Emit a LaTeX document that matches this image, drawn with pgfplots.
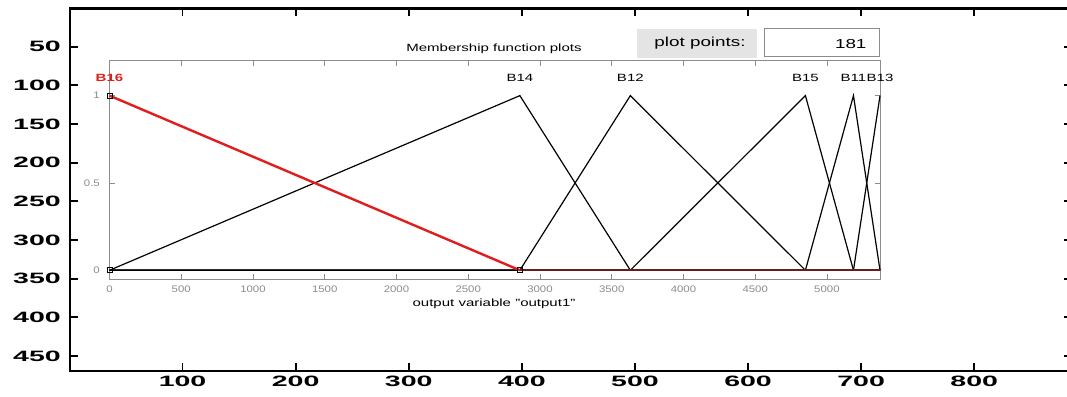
\documentclass[border=0pt]{standalone}
\usepackage{fontspec}
\setmainfont{Liberation Sans}
\usepackage{graphicx}
\usepackage{pgfplots}
\pgfplotsset{compat=1.18}
\definecolor{mfred}{RGB}{225,30,30}
\definecolor{mfdark}{RGB}{100,30,30}
\definecolor{tickgray}{RGB}{140,140,140}
\definecolor{boxgray}{RGB}{228,228,228}
\newcommand{\gui}[1]{\scalebox{1.43}[1]{\fontsize{10.5}{12}\selectfont #1}}
\begin{document}
\begin{tikzpicture}[x=1pt,y=1pt]
\useasboundingbox[fill=white] (0,0) rectangle (1067,396);
% outer image axis
\begin{axis}[
  at={(70pt,25pt)}, anchor=south west, scale only axis,
  width=1002pt, height=362.6pt,
  xmin=0.5, xmax=886.5, ymin=0.5, ymax=469.5, y dir=reverse,
  xtick={100,200,...,800}, ytick={50,100,...,450},
  tick align=inside, major tick length=8pt,
  axis line style={line width=2.5pt, black},
  tick style={black, line width=1.8pt},
  xticklabel={\scalebox{1.9}[1]{\fontsize{15}{15}\selectfont\bfseries\pgfmathprintnumber[assume math mode=true]{\tick}}},
  yticklabel={\scalebox{1.9}[1]{\fontsize{15}{15}\selectfont\bfseries\pgfmathprintnumber[assume math mode=true]{\tick}}},
  xticklabel style={anchor=north, inner sep=0pt, yshift=-5pt},
  yticklabel style={anchor=east, inner sep=0pt, xshift=-9pt},
]
\end{axis}
% inner membership function axis
\begin{axis}[
  at={(109.5pt,117pt)}, anchor=south west, scale only axis,
  width=770.5pt, height=218.3pt,
  xmin=0, xmax=5370, ymin=-0.05, ymax=1.2,
  xtick={0,500,...,5000}, ytick={0,0.5,1},
  tick align=inside, major tick length=5pt,
  axis line style={tickgray, line width=0.8pt},
  tick style={tickgray, line width=0.6pt},
  /pgf/number format/1000 sep={},
  xticklabel={\scalebox{1.2}[1]{\fontsize{9.5}{9.5}\selectfont\pgfmathprintnumber[assume math mode=true,1000 sep={}]{\tick}}},
  yticklabel={\scalebox{1.2}[1]{\fontsize{9.5}{9.5}\selectfont\pgfmathprintnumber[assume math mode=true]{\tick}}},
  xticklabel style={anchor=north, inner sep=0pt, yshift=-7pt, text=tickgray},
  yticklabel style={anchor=east, inner sep=0pt, xshift=-9.5pt, text=tickgray},
  clip=false,
]
\addplot[black, line width=1.2pt] coordinates {(0,0)(2860,1)(3630,0)(5370,0)};
\addplot[black, line width=1.2pt] coordinates {(0,0)(2860,0)(3630,1)(4850,0)(5370,0)};
\addplot[black, line width=1.2pt] coordinates {(0,0)(3630,0)(4850,1)(5185,0)(5370,0)};
\addplot[black, line width=1.2pt] coordinates {(0,0)(4850,0)(5185,1)(5370,0)};
\addplot[black, line width=1.2pt] coordinates {(0,0)(5185,0)(5370,1)};
\addplot[mfdark, line width=2.2pt] coordinates {(2860,0)(5370,0)};
\addplot[mfred, line width=2.4pt] coordinates {(0,1)(2860,0)};
\addplot[only marks, mark=square, mark size=2.5pt, black, mark options={line width=0.7pt}] coordinates {(0,1)(0,0)(2860,0)};
\node[text=mfred] at (axis cs:0,1.1) {\gui{\bfseries B16}};
\node at (axis cs:2860,1.1) {\gui{B14}};
\node at (axis cs:3630,1.1) {\gui{B12}};
\node at (axis cs:4850,1.1) {\gui{B15}};
\node at (axis cs:5185,1.1) {\gui{B11}};
\node at (axis cs:5370,1.1) {\gui{B13}};
\end{axis}
% GUI texts
\node at (494,347) {\gui{Membership function plots}};
\node at (494,92) {\gui{output variable "output1"}};
\fill[boxgray] (637,338) rectangle (757,367);
\node at (700,353) {\scalebox{1.45}[1]{\fontsize{13}{14}\selectfont plot points:}};
\draw[fill=white, draw=tickgray, line width=0.8pt] (764,339.3) rectangle (879,367.5);
\node[anchor=east] at (870,352) {\scalebox{1.45}[1]{\fontsize{13}{14}\selectfont 181}};
\end{tikzpicture}
\end{document}
